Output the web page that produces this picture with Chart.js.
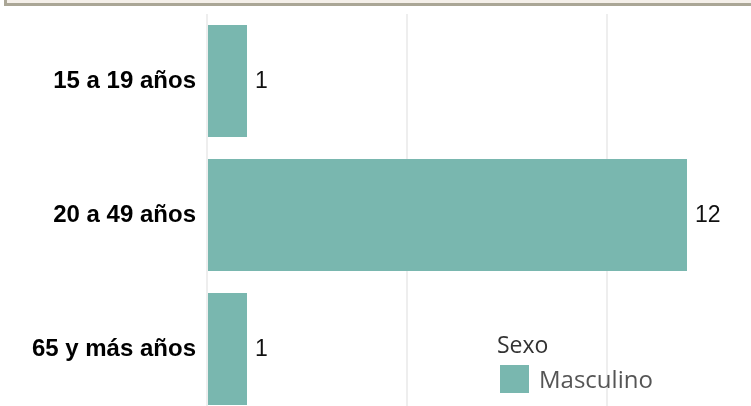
<!DOCTYPE html>
<html>
<head>
<meta charset="utf-8">
<script src="https://cdn.jsdelivr.net/npm/chart.js@4/dist/chart.umd.min.js"></script>
<style>
    html, body { margin: 0; padding: 0; width: 751px; height: 406px; overflow: hidden; background: #fff; }
    #marco { position: absolute; top: 0; left: 4px; width: 744px; height: 3px; background: #f4efe9;
             border-left: 3px solid #aaa696; border-bottom: 3px solid #aaa696; }
    #caja { position: absolute; top: 0; left: 0; width: 751px; height: 420px; }
</style>
</head>
<body>
<div id="caja"><canvas id="grafico" width="751" height="420"></canvas></div>
<div id="marco"></div>
<script>
// datos del gráfico
const categorias = ['15 a 19 años', '20 a 49 años', '65 y más años'];
const masculino = [1, 12, 1];
const ticksX = [0, 5, 10];
const tituloLeyenda = 'Sexo';
const colorMasculino = '#79b7af';

// etiquetas de valor al final de cada barra
const etiquetasValor = {
    id: 'etiquetasValor',
    afterDatasetsDraw(chart) {
        const ctx = chart.ctx;
        ctx.save();
        ctx.font = '23px "Liberation Sans", Arial, sans-serif';
        ctx.fillStyle = '#111';
        ctx.textBaseline = 'middle';
        chart.getDatasetMeta(0).data.forEach((bar, i) => {
            ctx.fillText(String(chart.data.datasets[0].data[i]), bar.x + 8, bar.y + 1);
        });
        ctx.restore();
    }
};

// leyenda dibujada encima del área del gráfico
const leyenda = {
    id: 'leyenda',
    afterDraw(chart) {
        const ctx = chart.ctx;
        const ds = chart.data.datasets[0];
        ctx.save();
        ctx.textBaseline = 'alphabetic';
        ctx.font = '23px "Open Sans", sans-serif';
        ctx.fillStyle = '#333';
        ctx.fillText(tituloLeyenda, 497, 353);
        ctx.fillStyle = ds.backgroundColor;
        ctx.fillRect(500, 365, 29, 28);
        ctx.font = '24px "Open Sans", sans-serif';
        ctx.fillStyle = '#555';
        ctx.fillText(ds.label, 539, 388);
        ctx.restore();
    }
};

new Chart(document.getElementById('grafico'), {
    type: 'bar',
    data: {
        labels: categorias,
        datasets: [{
            label: 'Masculino',
            data: masculino,
            backgroundColor: colorMasculino,
            barPercentage: 0.836,
            categoryPercentage: 1
        }]
    },
    options: {
        indexAxis: 'y',
        responsive: false,
        animation: false,
        devicePixelRatio: 1,
        layout: { padding: { top: 14, bottom: 4, left: 0, right: 0 } },
        plugins: {
            legend: { display: false },
            tooltip: { enabled: false }
        },
        scales: {
            x: {
                min: 0,
                max: 13.6,
                ticks: { display: false },
                grid: { color: '#eeeeee', lineWidth: 2, drawTicks: false },
                border: { display: false },
                afterBuildTicks: s => { s.ticks = ticksX.map(v => ({ value: v })); }
            },
            y: {
                grid: { display: false, drawTicks: false },
                border: { display: false },
                ticks: {
                    color: '#000',
                    padding: 11,
                    font: { family: '"Liberation Sans", Arial, sans-serif', weight: 'bold', size: 24 }
                },
                afterFit: s => { s.width = 207; s.paddingTop = 0; s.paddingBottom = 0; }
            }
        }
    },
    plugins: [etiquetasValor, leyenda]
});
</script>
</body>
</html>
